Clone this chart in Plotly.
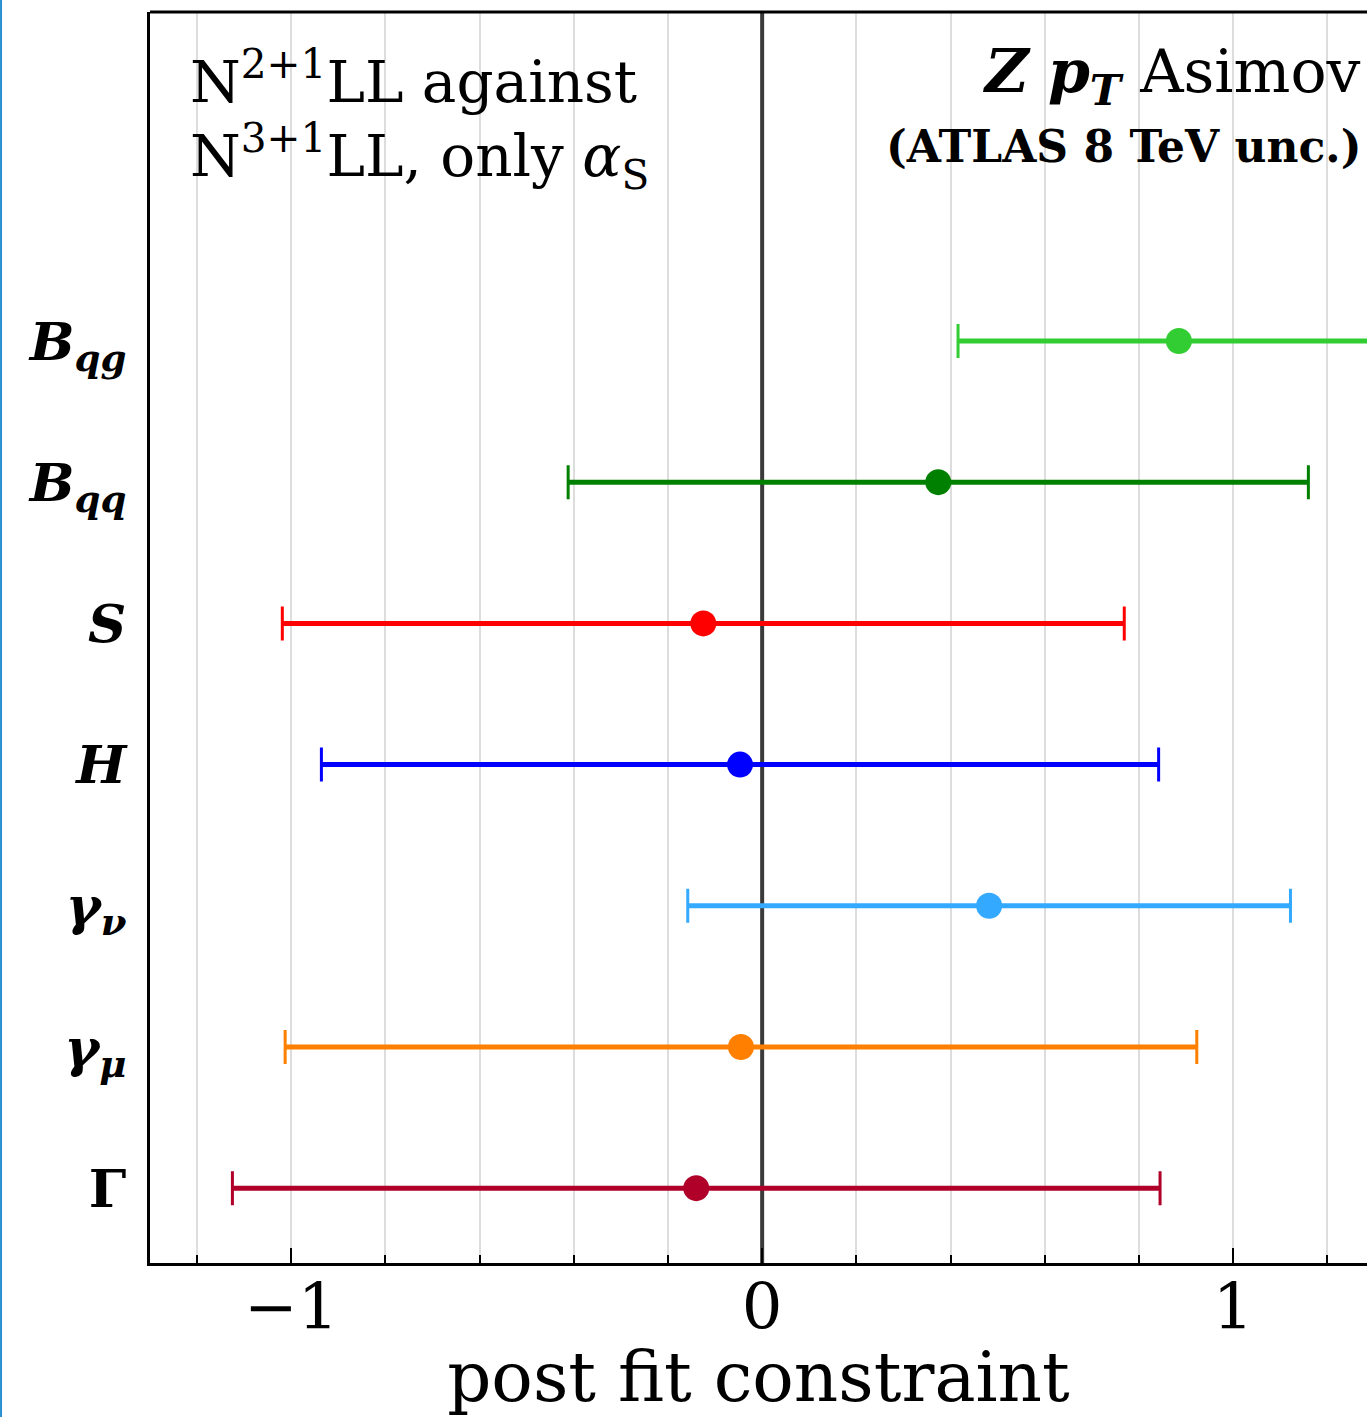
import plotly.graph_objects as go

# Data (bottom to top)
labels = [
    "<b>Γ</b>",
    "<b><i>γ</i><sub><i>μ</i></sub></b>",
    "<b><i>γ</i><sub><i>ν</i></sub></b>",
    "<b><i>H</i></b>",
    "<b><i>S</i></b>",
    "<b><i>B</i><sub><i>qq</i></sub></b>",
    "<b><i>B</i><sub><i>qg</i></sub></b>",
]
centers = [-0.140, -0.045, 0.482, -0.047, -0.125, 0.374, 0.885]
errors = [0.985, 0.968, 0.640, 0.889, 0.894, 0.786, 0.469]
colors = ["#B0002A", "#FF8000", "#33AAFF", "#0000FF", "#FF0000", "#008000", "#32CD32"]
positions = list(range(len(labels)))

x_range = [-1.3, 1.2845]
y_range = [-0.53, 8.33]

FONT = "DejaVu Serif"

fig = go.Figure()

# zero reference line
fig.add_trace(go.Scatter(x=[0, 0], y=y_range, mode="lines",
                         line=dict(color="#3a3a3a", width=4),
                         showlegend=False, hoverinfo="skip"))

for p, c, e, col in zip(positions, centers, errors, colors):
    fig.add_trace(go.Scatter(
        x=[c - e, c + e], y=[p, p], mode="lines",
        line=dict(color=col, width=5), showlegend=False, hoverinfo="skip"))
    fig.add_trace(go.Scatter(
        x=[c], y=[p], mode="markers",
        marker=dict(color=col, size=26, line=dict(width=0)),
        error_x=dict(type="data", array=[e], color=col, thickness=3, width=17),
        showlegend=False))

fig.update_layout(
    width=1367, height=1417,
    margin=dict(l=150, r=0, t=12, b=154),
    plot_bgcolor="white", paper_bgcolor="white",
    font=dict(family=FONT, color="black"),
    xaxis=dict(
        range=x_range,
        tickmode="array", tickvals=[-1, 0, 1], ticktext=["−1", "0", "1"],
        ticks="inside", ticklen=15, tickwidth=2, tickcolor="black",
        showgrid=True, gridcolor="#dddddd", gridwidth=2,
        minor=dict(dtick=0.2, tick0=0, ticks="inside", ticklen=8, tickwidth=2,
                   tickcolor="black", showgrid=True, gridcolor="#dddddd", gridwidth=2),
        showline=True, linecolor="black", linewidth=3,
        zeroline=False,
        tickfont=dict(size=64, family=FONT),
        ticklabelstandoff=-14,
        title=dict(text="post fit constraint", font=dict(size=69, family=FONT), standoff=6),
    ),
    yaxis=dict(
        range=y_range,
        tickmode="array", tickvals=positions, ticktext=labels,
        ticks="", showgrid=False, zeroline=False,
        showline=True, linecolor="black", linewidth=3,
        tickfont=dict(size=53, family=FONT),
        ticklabelstandoff=10,
    ),
)

# top spine
fig.add_shape(type="line", xref="paper", yref="paper", x0=0, x1=1.01, y0=1, y1=1,
              line=dict(color="black", width=3))
# left blue border line
fig.add_shape(type="line", xref="paper", yref="paper", x0=-0.1224, x1=-0.1224, y0=-0.2, y1=1.2,
              line=dict(color="#2a8fd0", width=2))

fig.add_annotation(x=-1.22, y=7.86, xref="x", yref="y", xanchor="left", yanchor="middle",
                   text="N<sup>2+1</sup>LL against", showarrow=False,
                   font=dict(size=58, family=FONT))
fig.add_annotation(x=-1.22, y=7.31, xref="x", yref="y", xanchor="left", yanchor="middle",
                   text="N<sup>3+1</sup>LL, only <i>α</i><sub>S</sub>", showarrow=False,
                   font=dict(size=58, family=FONT))
fig.add_annotation(x=1.275, y=7.88, xref="x", yref="y", xanchor="right", yanchor="middle",
                   text="<b><i>Z</i></b> <b><i>p</i><sub><i>T</i></sub></b> Asimov", showarrow=False,
                   font=dict(size=60, family=FONT))
fig.add_annotation(x=1.275, y=7.38, xref="x", yref="y", xanchor="right", yanchor="middle",
                   text="<b>(ATLAS 8 TeV unc.)</b>", showarrow=False,
                   font=dict(size=44, family=FONT))

fig.write_html("out.html")
